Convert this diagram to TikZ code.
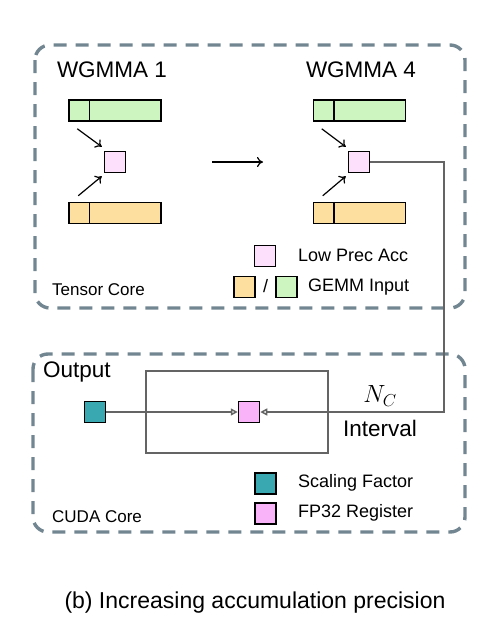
\documentclass[tikz,border=0pt]{standalone}
\usepackage{fontspec}
\setmainfont{Liberation Sans}
\usetikzlibrary{arrows.meta}
\definecolor{boxgray}{RGB}{114,134,145}
\definecolor{ingreen}{RGB}{204,245,192}
\definecolor{inorange}{RGB}{253,224,160}
\definecolor{accpink}{RGB}{252,224,252}
\definecolor{regpink}{RGB}{249,180,249}
\definecolor{sfteal}{RGB}{58,168,176}
\definecolor{wire}{RGB}{100,100,100}
\begin{document}
\begin{tikzpicture}[x=1pt,y=-1pt,
    corebox/.style={boxgray, line width=3.4pt, dash pattern=on 13pt off 9pt, rounded corners=15pt},
    gbar/.style={draw, line width=1.5pt, fill=ingreen, minimum width=92pt, minimum height=21pt, inner sep=0pt},
    obar/.style={gbar, fill=inorange},
    sq/.style={draw, line width=1.5pt, minimum size=21pt, inner sep=0pt},
    big/.style={font=\fontsize{22.5}{26}\selectfont, inner sep=0pt},
    mid/.style={font=\fontsize{18}{21}\selectfont, inner sep=0pt, anchor=west},
    small/.style={font=\fontsize{17}{20}\selectfont, inner sep=0pt, anchor=west},
    tarrow/.style={-{Computer Modern Rightarrow[length=6pt,width=10pt]}, line width=1.2pt},
    garrow/.style={wire, line width=1.5pt, -{Triangle[open,length=7pt,width=7pt]}}]
  \useasboundingbox (0,0) rectangle (482,635);

  % caixas tracejadas
  \draw[corebox] (35,45) rectangle (465,308);
  \draw[corebox] (33,354) rectangle (465,532);

  % WGMMA 1
  \node[big] (w1) at (112,70) {WGMMA 1};
  \node[gbar] (g1) at (115,110.5) {};
  \node[obar] (o1) at (115,213) {};
  \node[sq, fill=accpink] (p1) at (115,162) {};
  \draw[line width=1.5pt] ([xshift=21pt]g1.north west) -- ([xshift=21pt]g1.south west);
  \draw[line width=1.5pt] ([xshift=21pt]o1.north west) -- ([xshift=21pt]o1.south west);
  \draw[tarrow] ([xshift=9pt,yshift=-7pt]g1.south west) -- ([xshift=-2pt,yshift=4pt]p1.north west);
  \draw[tarrow] ([xshift=10pt,yshift=6pt]o1.north west) -- ([xshift=-2pt,yshift=-3pt]p1.south west);

  % passo
  \coordinate (m1) at (212,162);
  \coordinate (m2) at (263,162);
  \draw[tarrow] (m1) -- (m2);

  % WGMMA 4
  \node[big] (w4) at (361,70) {WGMMA 4};
  \node[gbar] (g2) at (359.5,110.5) {};
  \node[obar] (o2) at (359.5,213) {};
  \node[sq, fill=accpink] (p2) at (359,162) {};
  \draw[line width=1.5pt] ([xshift=21pt]g2.north west) -- ([xshift=21pt]g2.south west);
  \draw[line width=1.5pt] ([xshift=21pt]o2.north west) -- ([xshift=21pt]o2.south west);
  \draw[tarrow] ([xshift=9pt,yshift=-7pt]g2.south west) -- ([xshift=-2pt,yshift=4pt]p2.north west);
  \draw[tarrow] ([xshift=10pt,yshift=6pt]o2.north west) -- ([xshift=-2pt,yshift=-3pt]p2.south west);

  % legenda Tensor Core
  \node[sq, fill=accpink] (lp) at (265,256) {};
  \node[mid] (lpt) at (298,255) {Low Prec Acc};
  \node[sq, fill=inorange] (lo) at (244.5,287) {};
  \node[mid, anchor=center] (sl) at (265.5,286) {/};
  \node[sq, fill=ingreen] (lg) at (286.5,287) {};
  \node[mid] (lgt) at (308,287) {GEMM Input};
  \node[small] (tc) at (52,290) {Tensor Core};

  % CUDA Core
  \node[big, anchor=west] (out) at (43,372) {Output};
  \draw[wire, line width=1.5pt] (146,371) rectangle (328,453);
  \node[sq, fill=sfteal] (sf) at (95,412) {};
  \node[sq, fill=regpink] (fp) at (249,412) {};
  \coordinate (corner) at (444,162);
  \draw[garrow] (p2.east) -- (corner) |- (fp.east);
  \draw[garrow] (sf.east) -- (fp.west);
  \node[font=\fontsize{25}{29}\selectfont, inner sep=0pt] (nc) at (380,396) {$N_C$};
  \node[big] (iv) at (380,428) {Interval};

  % legenda CUDA Core
  \node[sq, fill=sfteal] (ls) at (265.5,483.5) {};
  \node[mid] (lst) at (298,483) {Scaling Factor};
  \node[sq, fill=regpink] (lr) at (265.5,513.5) {};
  \node[mid] (lrt) at (298,513) {FP32 Register};
  \node[small] (cc) at (52,517) {CUDA Core};

  % legenda
  \node[font=\fontsize{23}{27}\selectfont, inner sep=0pt] (cap) at (255,603) {(b) Increasing accumulation precision};
\end{tikzpicture}
\end{document}
